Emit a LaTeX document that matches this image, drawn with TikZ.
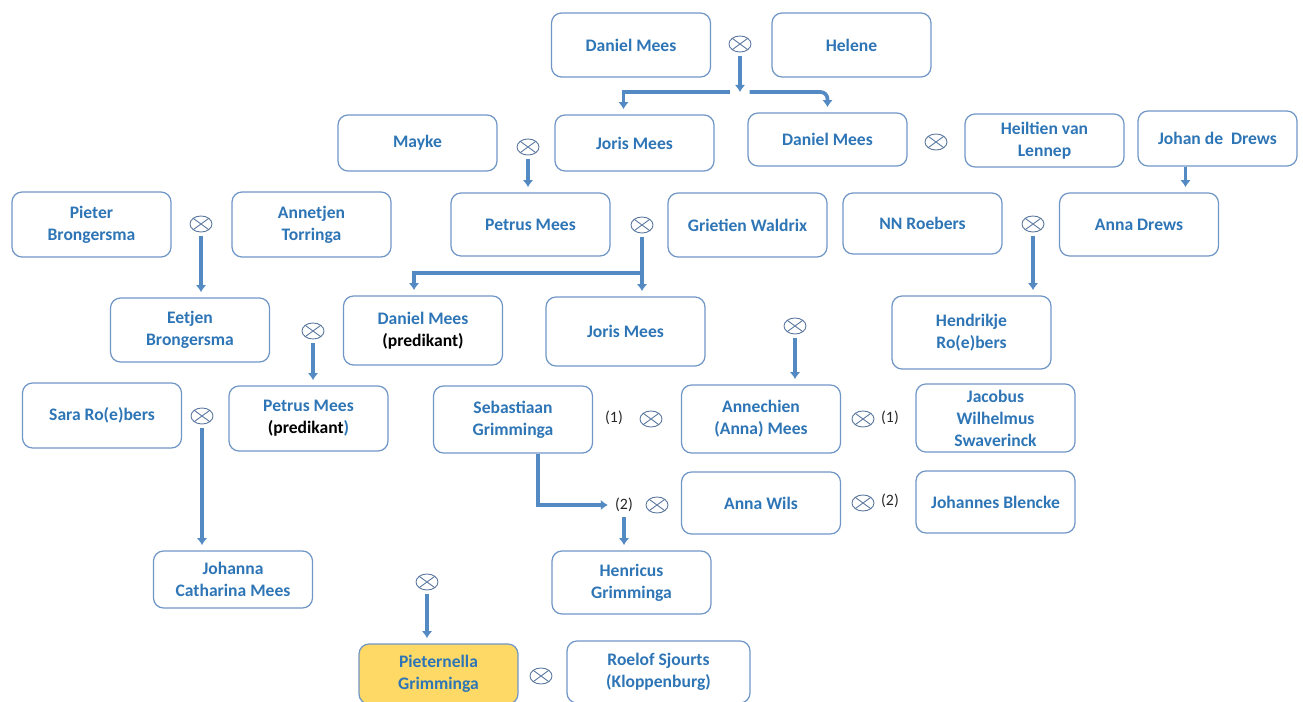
\documentclass[tikz,border=0pt]{standalone}
\usepackage{fontspec}
\setmainfont{Carlito}
\usetikzlibrary{arrows.meta,shapes.geometric,calc}
\definecolor{txtblue}{RGB}{46,117,182}
\definecolor{boxline}{RGB}{112,150,198}
\definecolor{arrblue}{RGB}{84,138,196}
\definecolor{wedline}{RGB}{88,118,158}
\definecolor{pgold}{RGB}{255,217,102}
\tikzset{
  pers/.style={draw=boxline,line width=0.7pt,rounded corners=0.2cm,minimum width=3.18cm,
    minimum height=#1,align=center,text=txtblue,font=\fontsize{10}{12.5}\selectfont\bfseries},
  pers/.default=1.28cm,
  wed/.style={ellipse,draw=wedline,line width=0.5pt,minimum width=0.44cm,minimum height=0.32cm,inner sep=0pt,
    path picture={\draw[wedline,line width=0.5pt] (path picture bounding box.north west) -- (path picture bounding box.south east)
      (path picture bounding box.north east) -- (path picture bounding box.south west);}},
  nr/.style={font=\fontsize{9}{11}\selectfont,text=black!85,inner sep=1pt},
  arr/.style={draw=arrblue,line width=2.1pt,-{Latex[length=4pt,width=6pt]},shorten >=3pt,shorten <=2pt}
}
\begin{document}
\begin{tikzpicture}[x=0.02cm,y=-0.02cm]
\useasboundingbox (0,0) rectangle (1303,702);
% generation 1
\node[pers] (daniel1) at (631,45) {Daniel Mees};
\node[pers] (helene) at (851.5,45) {Helene};
\node[wed] (w1) at (740,44) {};
% generation 2
\node[pers=1.12cm] (mayke) at (417.5,143) {Mayke};
\node[pers=1.12cm] (joris1) at (634.5,143) {Joris Mees};
\node[wed] (w2) at (528,147) {};
\node[pers=1.06cm] (daniel2) at (827.5,139.5) {Daniel Mees};
\node[wed] (w3) at (936,142) {};
\node[pers=1.06cm] (heiltien) at (1044.5,140.5) {Heiltien van\\Lennep};
\node[pers=1.1cm] (johan) at (1217.5,138.5) {Johan de~ Drews};
% generation 3
\node[pers=1.3cm] (pieter) at (91.5,224.5) {Pieter\\Brongersma};
\node[wed] (w4) at (201,224) {};
\node[pers=1.3cm] (annetjen) at (311.5,224.5) {Annetjen\\Torringa};
\node[pers=1.26cm] (petrus1) at (530.5,224.5) {Petrus Mees};
\node[wed] (w5) at (642,225) {};
\node[pers] (grietien) at (747.5,225) {Grietien Waldrix};
\node[pers=1.22cm] (nn) at (922.5,223.5) {NN Roebers};
\node[wed] (w6) at (1033,224) {};
\node[pers=1.26cm] (annad) at (1139,224.5) {Anna Drews};
% generation 4
\node[pers] (eetjen) at (190,330) {Eetjen\\Brongersma};
\node[wed] (w7) at (313,331) {};
\node[pers=1.38cm] (danielp) at (423,330.5) {Daniel Mees\\{\color{black}(predikant)}};
\node[pers=1.38cm] (joris3) at (625.5,331.5) {Joris Mees};
\node[wed] (w8) at (795,326) {};
\node[pers=1.46cm] (hendrikje) at (971.5,332.5) {Hendrikje\\Ro(e)bers};
% generation 5
\node[pers=1.3cm] (sara) at (102,415.5) {Sara Ro(e)bers};
\node[wed] (w9) at (202,416) {};
\node[pers=1.3cm] (petrusp) at (308.5,418.5) {Petrus Mees\\{\color{black}(predikant})};
\node[pers=1.34cm] (sebas) at (513,419.5) {Sebastiaan\\Grimminga};
\node[nr] (n1a) at (614,418) {(1)};
\node[wed] (w10) at (651,419) {};
\node[pers=1.36cm] (annechien) at (761,419) {Annechien\\(Anna) Mees};
\node[wed] (w11) at (863,419) {};
\node[nr] (n1b) at (890,418) {(1)};
\node[pers=1.32cm] (jacobus) at (995.5,418) {Jacobus\\Wilhelmus\\Swaverinck};
\node[nr] (n2a) at (624,505) {(2)};
\node[wed] (w12) at (657,505) {};
\node[pers=1.24cm] (annaw) at (761,503) {Anna Wils};
\node[wed] (w13) at (863,503) {};
\node[nr] (n2b) at (890,501) {(2)};
\node[pers=1.24cm] (johannes) at (995.5,502) {Johannes Blencke};
% generation 6
\node[pers=1.14cm] (johanna) at (233,579.5) {Johanna\\Catharina Mees};
\node[pers=1.26cm] (henricus) at (631.5,582.5) {Henricus\\Grimminga};
\node[wed] (w14) at (427,582) {};
% generation 7
\node[pers=1.2cm,fill=pgold] (pieternella) at (438.5,674) {Pieternella\\Grimminga};
\node[wed] (w15) at (541,676) {};
\node[pers=1.24cm,minimum width=3.66cm] (roelof) at (658.5,672) {Roelof Sjourts\\(Kloppenburg)};
% descent lines
\coordinate (j1) at (740,92);
\draw[arr,shorten >=0pt] (w1.south) -- (j1);
\draw[arr] (j1) ++(-6,0) -| ([xshift=-0.22cm]joris1.north);
\draw[arr,rounded corners=4pt] (j1) ++(6,0) -| (daniel2.north);
\draw[arr] (w2.south) -- (w2.south |- petrus1.north);
\coordinate (jd) at ($(johan.south)+(-32,0)$);
\draw[arr,shorten <=0pt] (jd) -- (jd |- annad.north);
\draw[arr] (w4.south) -- (w4.south |- eetjen.north);
\draw[arr] (w5.south) -- (w5.south |- joris3.north);
\coordinate (j5) at (642,273);
\draw[arr,shorten <=0pt] (j5) -| ([xshift=-0.18cm]danielp.north);
\draw[arr] (w6.south) -- (w6.south |- hendrikje.north);
\draw[arr] (w7.south) -- (w7.south |- petrusp.north);
\draw[arr] (w8.south) -- (w8.south |- annechien.north);
\draw[arr] (w9.south) -- (w9.south |- johanna.north);
\draw[arr,shorten <=0pt] ([xshift=0.5cm]sebas.south) |- (n2a.west);
\draw[arr] (n2a.south) -- (n2a.south |- henricus.north);
\draw[arr] (w14.south) -- (w14.south |- pieternella.north);
\end{tikzpicture}
\end{document}
